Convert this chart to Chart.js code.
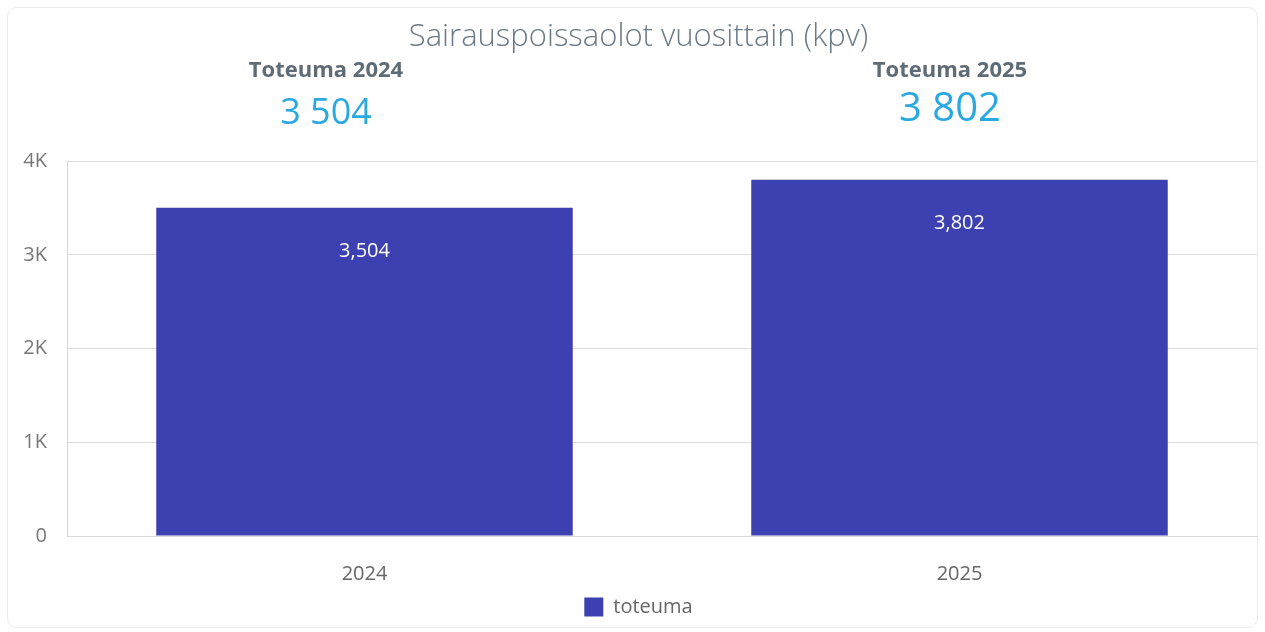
<!DOCTYPE html>
<html>
<head>
<meta charset="utf-8">
<script src="https://cdn.jsdelivr.net/npm/chart.js@4.4.1/dist/chart.umd.min.js"></script>
<style>
  html, body { margin: 0; padding: 0; background: #ffffff; }
  #frame { position: absolute; left: 7px; top: 7px; width: 1251px; height: 621px; border: 1px solid #ececec; border-radius: 10px; box-sizing: border-box; }
  #wrap { position: absolute; left: 0; top: 0; width: 1265px; height: 632px; }
</style>
</head>
<body>
<div id="frame"></div>
<div id="wrap"><canvas id="c" width="1265" height="632"></canvas></div>
<script>
const categories = ['2024', '2025'];
const toteuma = [3504, 3802];
const headerLabels = ['Toteuma 2024', 'Toteuma 2025'];
const headerValues = ['3 504', '3 802'];
const yTicks = [0, 1000, 2000, 3000, 4000];

const FONT = "'Open Sans', 'Noto Sans', sans-serif";

const overlayPlugin = {
  id: 'overlay',
  afterDatasetsDraw(chart) {
    const ctx = chart.ctx;
    const meta = chart.getDatasetMeta(0);
    ctx.save();
    ctx.textAlign = 'center';
    ctx.textBaseline = 'middle';
    ctx.fillStyle = '#ffffff';
    ctx.font = "20px " + FONT;
    meta.data.forEach((bar, i) => {
      ctx.fillText(toteuma[i].toLocaleString('en-US'), bar.x, bar.y + 44);
    });
    // headers
    const offsets = [-38.5, -9.5];
    const valSizes = [36, 40];
    const valY = [114, 110];
    meta.data.forEach((bar, i) => {
      const x = bar.x + offsets[i];
      ctx.fillStyle = '#5f6b75';
      ctx.font = "bold 22px " + FONT;
      ctx.fillText(headerLabels[i], x, 71);
      ctx.fillStyle = '#2aa9e1';
      ctx.font = valSizes[i] + "px " + FONT;
      ctx.fillText(headerValues[i], x, valY[i]);
    });
    ctx.restore();
  }
};

new Chart(document.getElementById('c'), {
  type: 'bar',
  data: {
    labels: categories,
    datasets: [{
      label: 'toteuma',
      data: toteuma,
      backgroundColor: '#3c40b0',
      borderWidth: 0,
      barPercentage: 0.7,
      categoryPercentage: 1.0
    }]
  },
  options: {
    responsive: false,
    animation: false,
    layout: { padding: { left: 20, right: 8, top: 0, bottom: 5 } },
    plugins: {
      title: {
        display: true,
        text: 'Sairauspoissaolot vuosittain (kpv)',
        color: '#6b7a84',
        font: { family: FONT, size: 31, weight: '300' },
        padding: { top: 19, bottom: 105 }
      },
      legend: {
        display: true,
        position: 'bottom',
        labels: {
          color: '#666666',
          font: { family: FONT, size: 20 },
          boxWidth: 19,
          boxHeight: 19,
          padding: 10
        }
      },
      tooltip: { enabled: false }
    },
    scales: {
      x: {
        grid: { display: false, drawTicks: false },
        border: { display: true, color: '#d6d6d6' },
        ticks: { color: '#666666', font: { family: FONT, size: 20 }, padding: 26 },
        afterFit(scale) { scale.height = 51; }
      },
      y: {
        min: 0,
        max: 4000,
        afterBuildTicks(axis) { axis.ticks = yTicks.map(v => ({ value: v })); },
        grid: { color: '#dcdcdc', drawTicks: false },
        border: { display: true, color: '#d6d6d6' },
        ticks: {
          color: '#777777',
          font: { family: FONT, size: 20 },
          padding: 20,
          callback: v => v === 0 ? '0' : (v / 1000) + 'K'
        },
        afterFit(scale) { scale.width = 47; }
      }
    }
  },
  plugins: [overlayPlugin]
});
</script>
</body>
</html>
